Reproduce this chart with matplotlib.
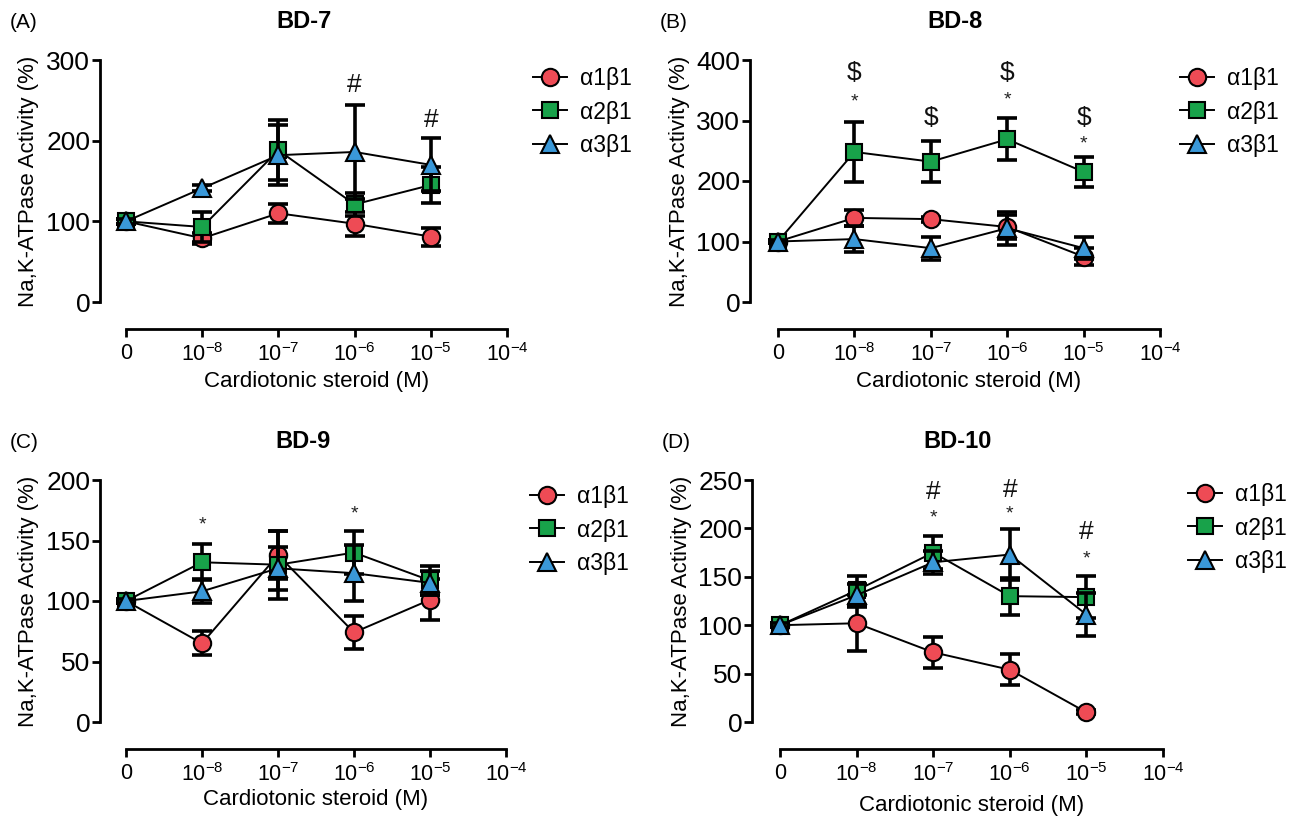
import numpy as np
import matplotlib
matplotlib.use("Agg")
import matplotlib.pyplot as plt

plt.rcParams['font.family'] = ['Liberation Sans', 'DejaVu Sans']
plt.rcParams['mathtext.fontset'] = 'custom'
plt.rcParams['mathtext.rm'] = 'Liberation Sans'
plt.rcParams['mathtext.it'] = 'Liberation Sans:italic'
plt.rcParams['mathtext.bf'] = 'Liberation Sans:bold'

W, H = 1297, 818

doses = ["0", "$10^{-8}$", "$10^{-7}$", "$10^{-6}$", "$10^{-5}$", "$10^{-4}$"]
x = np.arange(5)
series = ["\u03b11\u03b21", "\u03b12\u03b21", "\u03b13\u03b21"]
colors = ["#EE4B55", "#18A24A", "#3A98D8"]
markers = ["o", "s", "^"]

# BD-7
a_mean = [[100, 79, 110, 97, 81],
          [100, 93, 188, 121, 145],
          [100, 141, 182, 186, 170]]
a_err = [[3, 7, 12, 15, 11],
         [3, 19, 37, 14, 22],
         [3, 4, 37, 58, 33]]
# BD-8
b_mean = [[100, 139, 137, 124, 75],
          [100, 248, 232, 269, 215],
          [100, 104, 89, 122, 89]]
b_err = [[3, 13, 4, 20, 14],
         [3, 50, 34, 35, 25],
         [3, 21, 19, 27, 18]]
# BD-9
c_mean = [[100, 65, 138, 74, 101],
          [100, 132, 130, 140, 117],
          [100, 108, 127, 123, 115]]
c_err = [[2, 10, 20, 14, 17],
         [2, 15, 28, 18, 12],
         [2, 10, 18, 23, 10]]
# BD-10
d_mean = [[100, 102, 72, 54, 10],
          [100, 136, 175, 130, 129],
          [100, 131, 165, 173, 111]]
d_err = [[2, 29, 16, 16, 2],
         [2, 15, 17, 19, 22],
         [2, 12, 12, 26, 22]]

# significance marks: (x index, y value, symbol)
a_marks = [(3, 269, "#"), (4, 226, "#")]
b_marks = [(1, 378, "$"), (1, 331, "*"), (2, 304, "$"), (3, 378, "$"),
           (3, 334, "*"), (4, 304, "$"), (4, 262, "*")]
c_marks = [(1, 163, "*"), (3, 172, "*")]
d_marks = [(2, 238, "#"), (2, 211, "*"), (3, 240, "#"), (3, 215, "*"),
           (4, 196, "#"), (4, 168, "*")]

panels = [
    # letter, title, means, errs, marks, ymax, ystep, (left, x0, right, top, bottom), legend (x, y), xlabel y, title y
    ("(A)", "BD-7", a_mean, a_err, a_marks, 300, 100, (100, 126, 507, 60, 302), (533, 112), 382, 22),
    ("(B)", "BD-8", b_mean, b_err, b_marks, 400, 100, (750, 778, 1160, 60, 302), (1180, 112), 382, 22),
    ("(C)", "BD-9", c_mean, c_err, c_marks, 200, 50, (100, 126, 506, 480, 722), (530, 530), 800, 442),
    ("(D)", "BD-10", d_mean, d_err, d_marks, 250, 50, (752, 780, 1163, 480, 722), (1188, 528), 805, 442),
]

fig = plt.figure(figsize=(W / 100, H / 100), dpi=100)

for letter, title, means, errs, marks, ymax, ystep, box, leg, xl_y, t_y in panels:
    left, x0, right, top, bottom = box
    ax = fig.add_axes([left / W, 1 - bottom / H, (right - left) / W, (bottom - top) / H])
    unit = (right - x0) / 5.0
    ax.set_xlim(-(x0 - left) / unit, 5)
    ax.set_ylim(0, ymax)

    for i in range(3):
        ax.errorbar(x, means[i], yerr=errs[i], fmt="none", ecolor="black",
                    elinewidth=2.6, capsize=7, capthick=2.6, zorder=2 + 2 * i, clip_on=False)
        ax.plot(x, means[i], color="black", lw=1.4, marker=markers[i],
                markersize=12.5 if markers[i] != "s" else 12,
                markerfacecolor=colors[i], markeredgecolor="black", markeredgewidth=1.5,
                label=series[i], zorder=3 + 2 * i, clip_on=False)

    for xi, yv, sym in marks:
        if sym == "*":
            ax.text(xi, yv, sym, ha="center", va="center", fontsize=14, color="#222222")
        else:
            ax.text(xi, yv, sym, ha="center", va="center", fontsize=19, color="#111111")

    for s in ["top", "right"]:
        ax.spines[s].set_visible(False)
    ax.spines["left"].set_linewidth(2)
    ax.spines["bottom"].set_linewidth(2)
    ax.spines["bottom"].set_position(("outward", 19.5))
    ax.spines["bottom"].set_bounds(0, 5)

    ax.set_yticks(np.arange(0, ymax + 1, ystep))
    ax.set_xticks(np.arange(6))
    ax.set_xticklabels(doses)
    ax.tick_params(axis="y", direction="out", length=6, width=2, labelsize=19, pad=1)
    ax.tick_params(axis="x", direction="out", length=6, width=2, labelsize=15.5, pad=4)

    cx = (x0 + right) / 2.0
    fig.text(cx / W, 1 - xl_y / H, "Cardiotonic steroid (M)", ha="center", va="center", fontsize=16)
    fig.text((left - 71) / W, 1 - (top + bottom) / 2.0 / H, "Na,K-ATPase Activity (%)",
             ha="center", va="center", rotation=90, fontsize=16)
    fig.text((left + right) / 2.0 / W, 1 - t_y / H, title, ha="center", va="center",
             fontsize=17, fontweight="bold")
    fig.text((left - 90) / W, 1 - t_y / H, letter, ha="left", va="center", fontsize=15)

    ax.legend(loc="center left", bbox_to_anchor=(leg[0] / W, 1 - leg[1] / H),
              bbox_transform=fig.transFigure, frameon=False, fontsize=16.5,
              handlelength=1.5, handletextpad=0.55, labelspacing=0.45,
              borderpad=0, borderaxespad=0)

fig.savefig("out.png", dpi=100)
